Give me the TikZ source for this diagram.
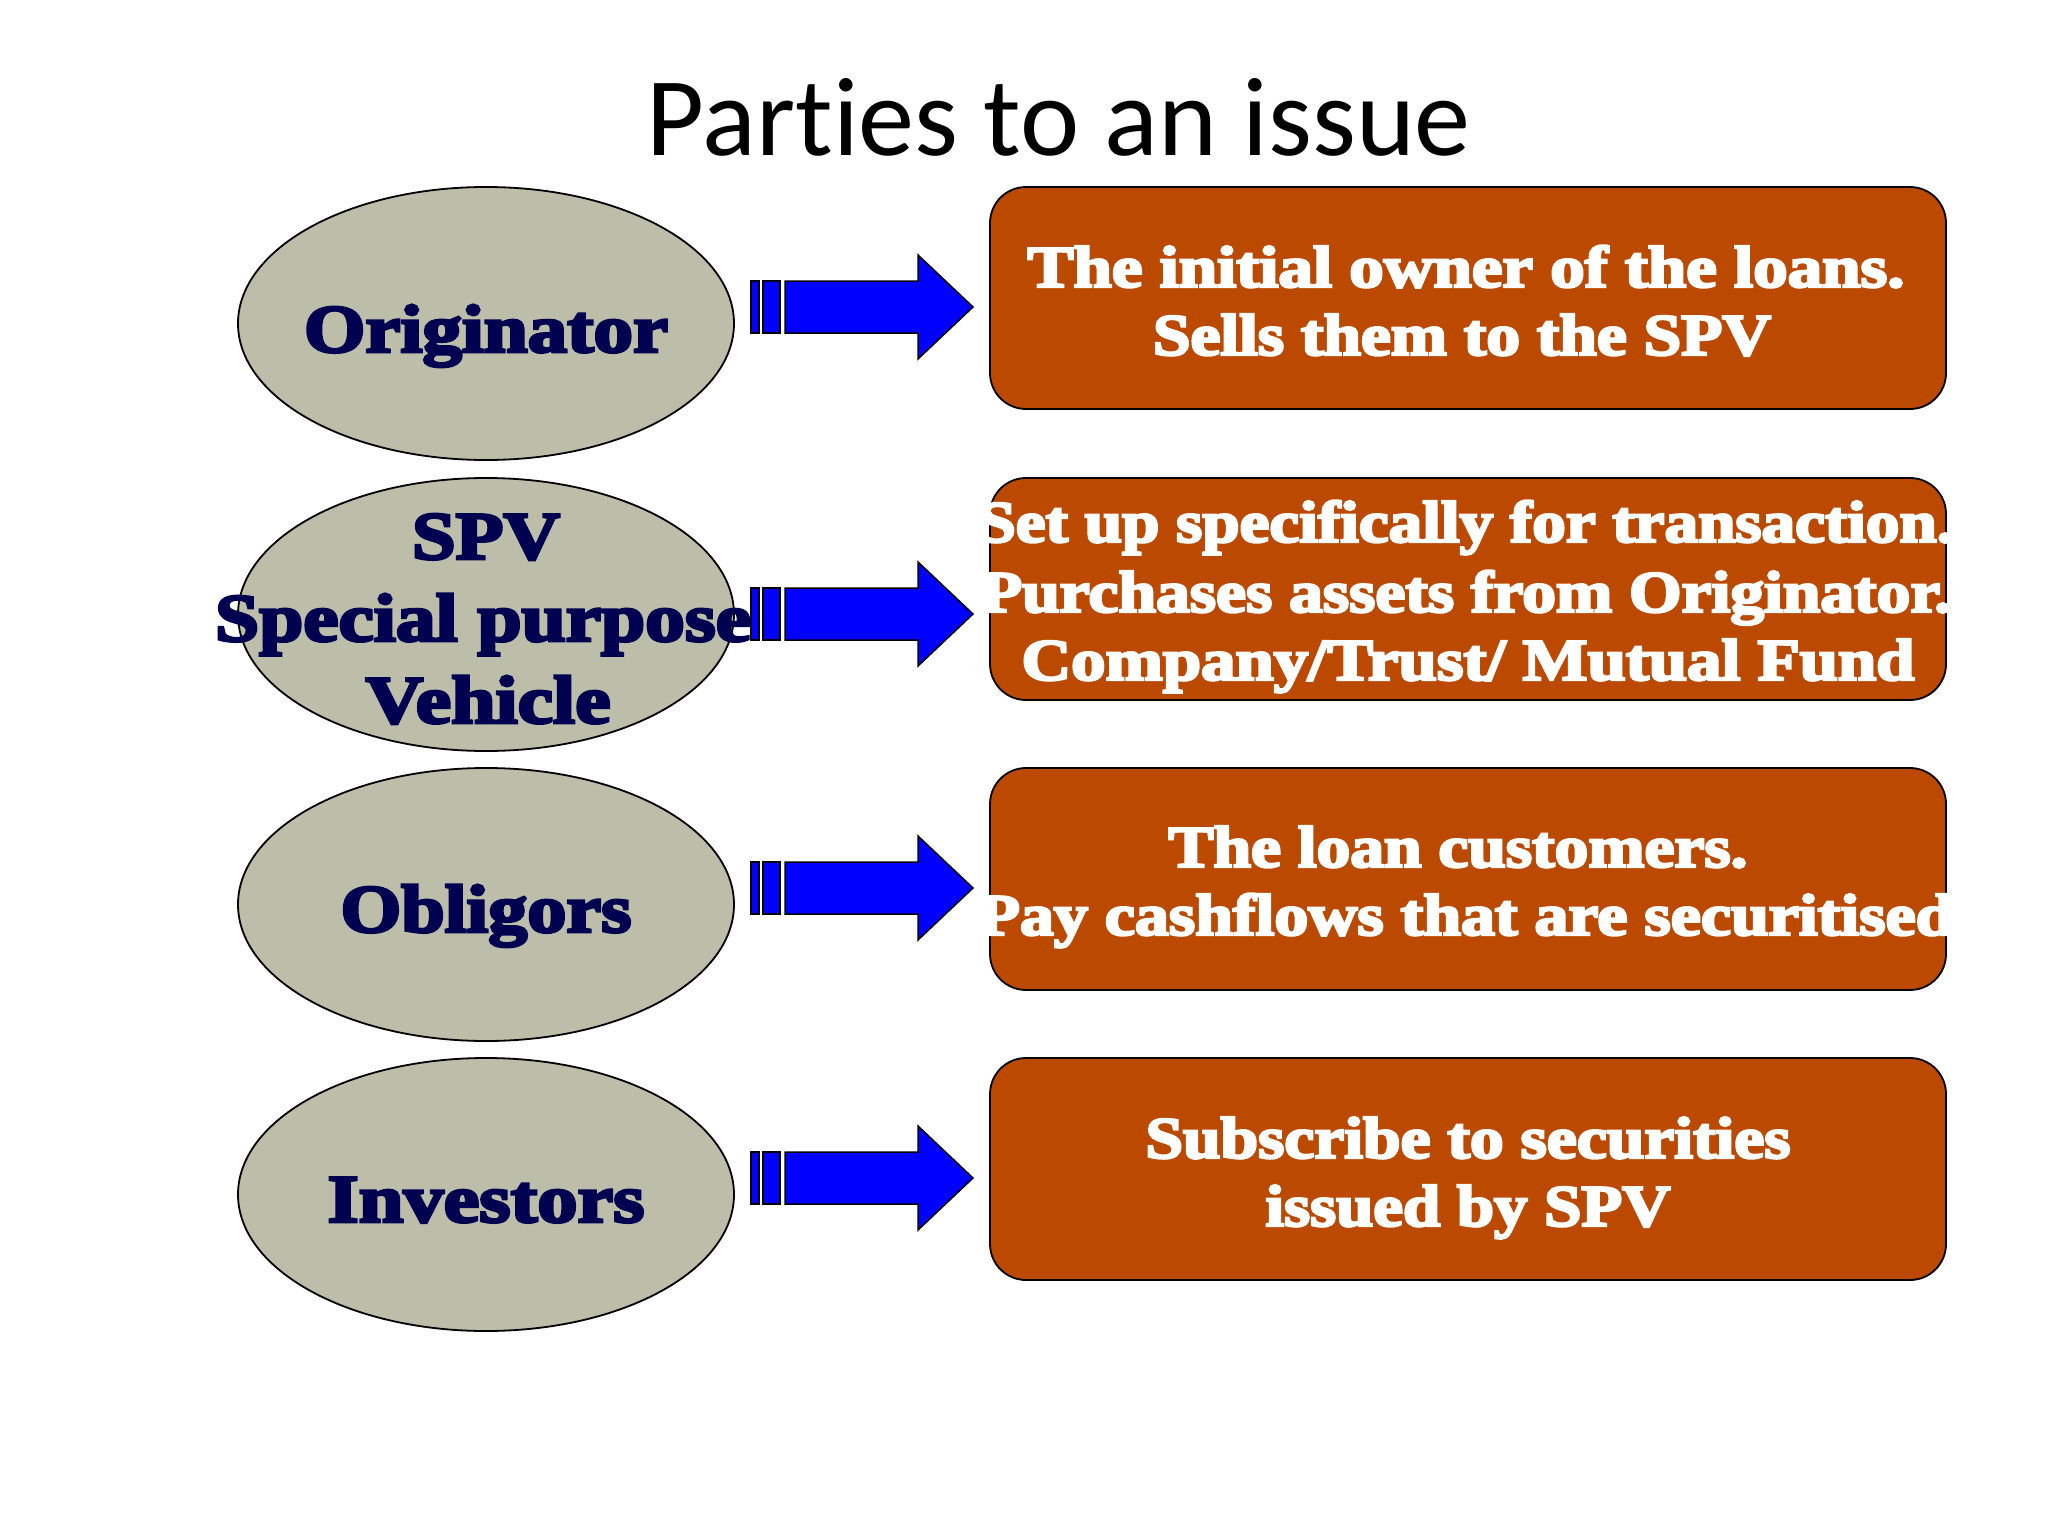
\documentclass[tikz,border=0pt]{standalone}
\usepackage{fontspec}
\usepackage{graphicx}
\usetikzlibrary{shapes.geometric}
\setmainfont{Carlito}[Ligatures=NoCommon]
\newfontfamily\heavy{Liberation Serif}[BoldFeatures={FakeBold=4}]
\newcommand{\fitw}[2]{\resizebox{#1pt}{\height}{#2}}
\definecolor{ellfill}{RGB}{188,190,169}
\definecolor{boxfill}{RGB}{187,74,0}
\definecolor{navy}{RGB}{0,0,80}
\definecolor{arrblue}{RGB}{0,0,255}
\tikzset{
  party/.style={ellipse, draw=black, line width=1.8pt, fill=ellfill,
    minimum width=496pt, minimum height=273pt, inner sep=0pt},
  infobox/.style={rectangle, rounded corners=36pt, draw=black, line width=1.8pt,
    fill=boxfill, minimum width=956pt, minimum height=222pt, inner sep=0pt},
  etext/.style={anchor=base, inner sep=0pt, text=navy, font=\heavy\bfseries\fontsize{68}{68}\selectfont},
  btext/.style={anchor=base, inner sep=0pt, text=white, font=\heavy\bfseries\fontsize{59}{59}\selectfont},
  blockarrow/.style={fill=arrblue, draw=black, line width=1.5pt, line join=miter}
}
\begin{document}
\begin{tikzpicture}[x=1pt,y=-1pt]
\useasboundingbox[fill=white] (0,0) rectangle (2048,1536);

% title
\node[anchor=base, inner sep=0pt, font=\fontsize{112}{112}\selectfont] (title) at (1059,156) {\fitw{824}{Parties to an issue}};

% ellipses
\node[party] (e1) at (486,323.5) {};
\node[party] (e2) at (486,614.5) {};
\node[party] (e3) at (486,904.5) {};
\node[party] (e4) at (486,1194.5) {};

% boxes
\node[infobox] (b1) at (1468,298) {};
\node[infobox] (b2) at (1468,589) {};
\node[infobox] (b3) at (1468,879) {};
\node[infobox] (b4) at (1468,1169) {};

% block arrows
\foreach \yy/\nm in {307/a1, 614/a2, 888/a3, 1178/a4}{
  \coordinate (\nm) at (751,\yy);
  \begin{scope}[shift={(\nm)}]
    \draw[blockarrow] (0,-26) rectangle (8,26);
    \draw[blockarrow] (12,-26) rectangle (29,26);
    \draw[blockarrow] (34,-26) -- (167,-26) -- (167,-52) -- (222,0) -- (167,52) -- (167,26) -- (34,26) -- cycle;
  \end{scope}
}

% ellipse texts
\node[etext] (t1) at (486,352) {\fitw{364}{Originator}};
\node[etext] (t2a) at (486,559) {\fitw{148}{SPV}};
\node[etext] (t2b) at (483,641) {\fitw{536}{Special purpose}};
\node[etext] (t2c) at (488,723) {\fitw{245}{Vehicle}};
\node[etext] (t3) at (486,932) {\fitw{291}{Obligors}};
\node[etext] (t4) at (486,1222) {\fitw{317}{Investors}};

% box texts
\node[btext] (d1a) at (1466,287) {\fitw{877}{The initial owner of the loans.}};
\node[btext] (d1b) at (1462,355) {\fitw{618}{Sells them to the SPV}};
\node[btext] (d2a) at (1466,542) {\fitw{975}{Set up specifically for transaction.}};
\node[btext] (d2b) at (1466,612) {\fitw{970}{Purchases assets from Originator.}};
\node[btext] (d2c) at (1468,680) {\fitw{893}{Company/Trust/ Mutual Fund}};
\node[btext] (d3a) at (1458,867) {\fitw{579}{The loan customers.}};
\node[btext] (d3b) at (1466,935) {\fitw{975}{Pay cashflows that are securitised}};
\node[btext] (d4a) at (1468,1158) {\fitw{645}{Subscribe to securities}};
\node[btext] (d4b) at (1468,1226) {\fitw{405}{issued by SPV}};
\end{tikzpicture}
\end{document}
